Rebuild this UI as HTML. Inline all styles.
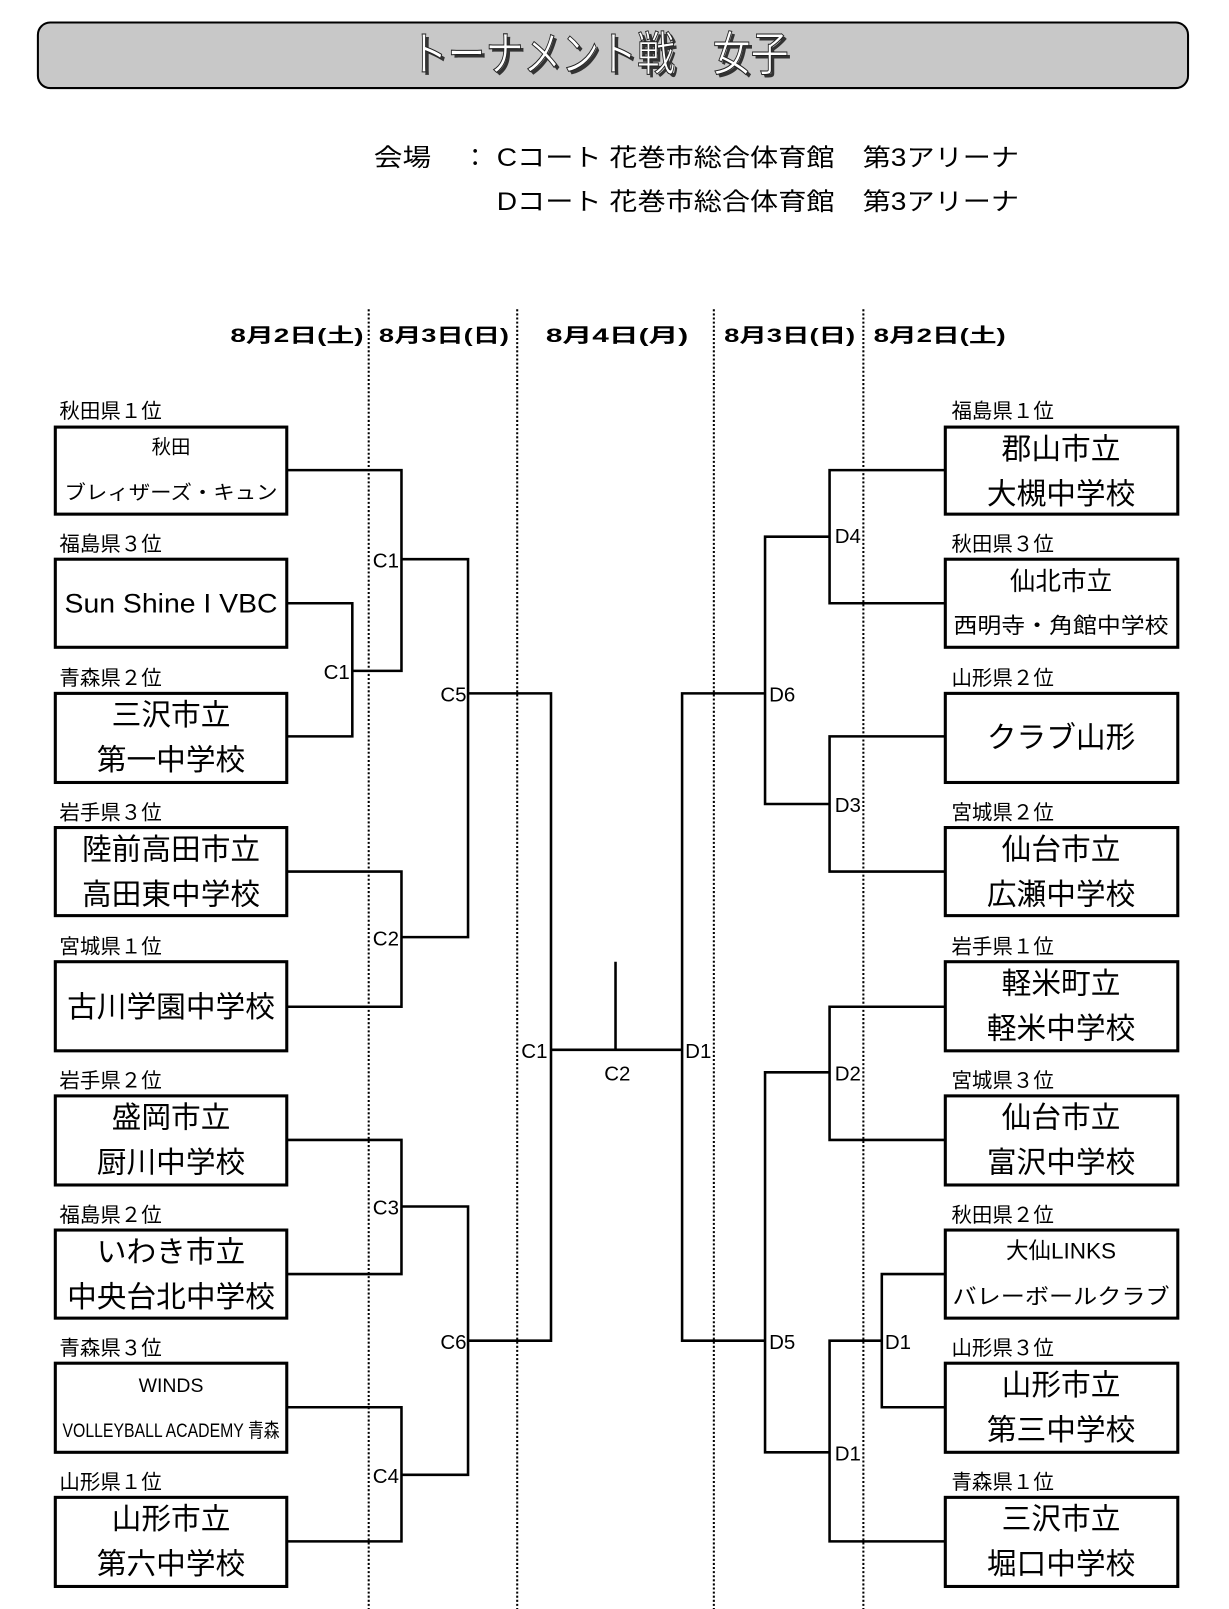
<!DOCTYPE html>
<html><head><meta charset="utf-8"><style>
html,body{margin:0;padding:0;background:#fff;}
svg{display:block;}
text{font-family:"Liberation Sans","Noto Sans CJK JP",sans-serif;fill:#000;}
</style></head><body>
<svg width="1229" height="1609" viewBox="0 0 1200 1571" preserveAspectRatio="none" xmlns="http://www.w3.org/2000/svg">
<rect x="37" y="22" width="1123" height="64" rx="12" fill="#c8c8c8" stroke="#000" stroke-width="2"/>
<text x="588" y="72" font-size="46" text-anchor="middle" textLength="370" lengthAdjust="spacingAndGlyphs" style="fill:#333">トーナメント戦　女子</text>
<text x="585" y="69" font-size="46" text-anchor="middle" textLength="370" lengthAdjust="spacingAndGlyphs" style="fill:#fff;stroke:#222;stroke-width:1">トーナメント戦　女子</text>
<g font-size="24">
<text x="365" y="162" textLength="56" lengthAdjust="spacingAndGlyphs">会場</text><text x="452" y="162">：</text>
<text x="485" y="162" textLength="510" lengthAdjust="spacingAndGlyphs">Cコート 花巻市総合体育館　第3アリーナ</text>
<text x="485" y="205" textLength="510" lengthAdjust="spacingAndGlyphs">Dコート 花巻市総合体育館　第3アリーナ</text>
</g>
<g font-size="19" font-weight="bold">
<text x="225" y="334" textLength="130" lengthAdjust="spacingAndGlyphs">8月2日(土)</text>
<text x="370" y="334" textLength="127" lengthAdjust="spacingAndGlyphs">8月3日(日)</text>
<text x="533" y="334" textLength="139" lengthAdjust="spacingAndGlyphs">8月4日(月)</text>
<text x="707" y="334" textLength="128" lengthAdjust="spacingAndGlyphs">8月3日(日)</text>
<text x="853" y="334" textLength="129" lengthAdjust="spacingAndGlyphs">8月2日(土)</text>
</g>
<g stroke="#000" stroke-width="2" stroke-dasharray="2,2">
<line x1="360" y1="302" x2="360" y2="1571"/><line x1="505" y1="302" x2="505" y2="1571"/>
<line x1="697" y1="302" x2="697" y2="1571"/><line x1="843" y1="302" x2="843" y2="1571"/>
</g>
<g fill="#fff" stroke="#000" stroke-width="3">
<rect x="54" y="417" width="226" height="85"/><rect x="54" y="546" width="226" height="86"/><rect x="54" y="677" width="226" height="87"/>
<rect x="54" y="808" width="226" height="86"/><rect x="54" y="939" width="226" height="87"/><rect x="54" y="1070" width="226" height="87"/>
<rect x="54" y="1201" width="226" height="86"/><rect x="54" y="1331" width="226" height="87"/><rect x="54" y="1462" width="226" height="87"/>
<rect x="923" y="417" width="227" height="85"/><rect x="923" y="546" width="227" height="86"/><rect x="923" y="677" width="227" height="87"/>
<rect x="923" y="808" width="227" height="86"/><rect x="923" y="939" width="227" height="87"/><rect x="923" y="1070" width="227" height="87"/>
<rect x="923" y="1201" width="227" height="86"/><rect x="923" y="1331" width="227" height="87"/><rect x="923" y="1462" width="227" height="87"/>
</g>
<g fill="none" stroke="#000" stroke-width="2.5">
<polyline points="280,459 392,459 392,655 344,655"/>
<polyline points="280,589 344,589 344,719 280,719"/>
<polyline points="392,546 457,546 457,915 392,915"/>
<polyline points="280,851 392,851 392,983 280,983"/>
<polyline points="457,677 538,677 538,1309 457,1309"/>
<polyline points="280,1113 392,1113 392,1244 280,1244"/>
<polyline points="280,1374 392,1374 392,1505 280,1505"/>
<polyline points="392,1178 457,1178 457,1440 392,1440"/>
<line x1="538" y1="1025" x2="666" y2="1025"/><line x1="601" y1="939" x2="601" y2="1025"/>
<polyline points="923,459 810,459 810,589 923,589"/>
<polyline points="923,719 810,719 810,851 923,851"/>
<polyline points="810,524 747,524 747,785 810,785"/>
<polyline points="747,677 666,677 666,1309 747,1309"/>
<polyline points="923,983 810,983 810,1113 923,1113"/>
<polyline points="923,1244 861,1244 861,1374 923,1374"/>
<polyline points="861,1309 810,1309 810,1505 923,1505"/>
<polyline points="810,1047 747,1047 747,1418 810,1418"/>
</g>
<g font-size="20">
<text x="364" y="554">C1</text><text x="316" y="663">C1</text><text x="430" y="685">C5</text>
<text x="364" y="923">C2</text><text x="509" y="1033">C1</text><text x="590" y="1055">C2</text>
<text x="364" y="1186">C3</text><text x="430" y="1317">C6</text><text x="364" y="1448">C4</text>
<text x="815" y="530">D4</text><text x="751" y="685">D6</text><text x="815" y="793">D3</text>
<text x="669" y="1033">D1</text><text x="815" y="1055">D2</text><text x="751" y="1317">D5</text>
<text x="864" y="1317">D1</text><text x="815" y="1426">D1</text>
</g>
<g font-size="20">
<text x="58" y="408">秋田県１位</text><text x="58" y="538">福島県３位</text><text x="58" y="669">青森県２位</text>
<text x="58" y="800">岩手県３位</text><text x="58" y="931">宮城県１位</text><text x="58" y="1062">岩手県２位</text>
<text x="58" y="1193">福島県２位</text><text x="58" y="1323">青森県３位</text><text x="58" y="1454">山形県１位</text>
<text x="929" y="408">福島県１位</text><text x="929" y="538">秋田県３位</text><text x="929" y="669">山形県２位</text>
<text x="929" y="800">宮城県２位</text><text x="929" y="931">岩手県１位</text><text x="929" y="1062">宮城県３位</text>
<text x="929" y="1193">秋田県２位</text><text x="929" y="1323">山形県３位</text><text x="929" y="1454">青森県１位</text>
</g>
<g text-anchor="middle" font-size="19">
<text x="167" y="443">秋田</text>
<text x="167" y="487" textLength="208" lengthAdjust="spacingAndGlyphs">ブレィザーズ・キュン</text>
<text x="167" y="1359">WINDS</text>
<text x="167" y="1403" textLength="212" lengthAdjust="spacingAndGlyphs">VOLLEYBALL ACADEMY 青森</text>
<text x="1036" y="1229" font-size="22">大仙LINKS</text>
<text x="1036" y="1273" font-size="21" textLength="212" lengthAdjust="spacingAndGlyphs">バレーボールクラブ</text>
<text x="1036" y="618" font-size="21" textLength="210" lengthAdjust="spacingAndGlyphs">西明寺・角館中学校</text>
</g>
<text x="167" y="598" font-size="26" text-anchor="middle" textLength="208" lengthAdjust="spacingAndGlyphs">Sun Shine I VBC</text>
<g text-anchor="middle" font-size="29">
<text x="167" y="708">三沢市立</text><text x="167" y="752">第一中学校</text>
<text x="167" y="839">陸前高田市立</text><text x="167" y="883">高田東中学校</text>
<text x="167" y="993">古川学園中学校</text>
<text x="167" y="1101">盛岡市立</text><text x="167" y="1145">厨川中学校</text>
<text x="167" y="1232">いわき市立</text><text x="167" y="1276">中央台北中学校</text>
<text x="167" y="1493">山形市立</text><text x="167" y="1537">第六中学校</text>
<text x="1036" y="448">郡山市立</text><text x="1036" y="492">大槻中学校</text>
<text x="1036" y="576" font-size="25">仙北市立</text>
<text x="1036" y="730">クラブ山形</text>
<text x="1036" y="839">仙台市立</text><text x="1036" y="883">広瀬中学校</text>
<text x="1036" y="970">軽米町立</text><text x="1036" y="1014">軽米中学校</text>
<text x="1036" y="1101">仙台市立</text><text x="1036" y="1145">富沢中学校</text>
<text x="1036" y="1362">山形市立</text><text x="1036" y="1406">第三中学校</text>
<text x="1036" y="1493">三沢市立</text><text x="1036" y="1537">堀口中学校</text>
</g>
</svg>
</body></html>
